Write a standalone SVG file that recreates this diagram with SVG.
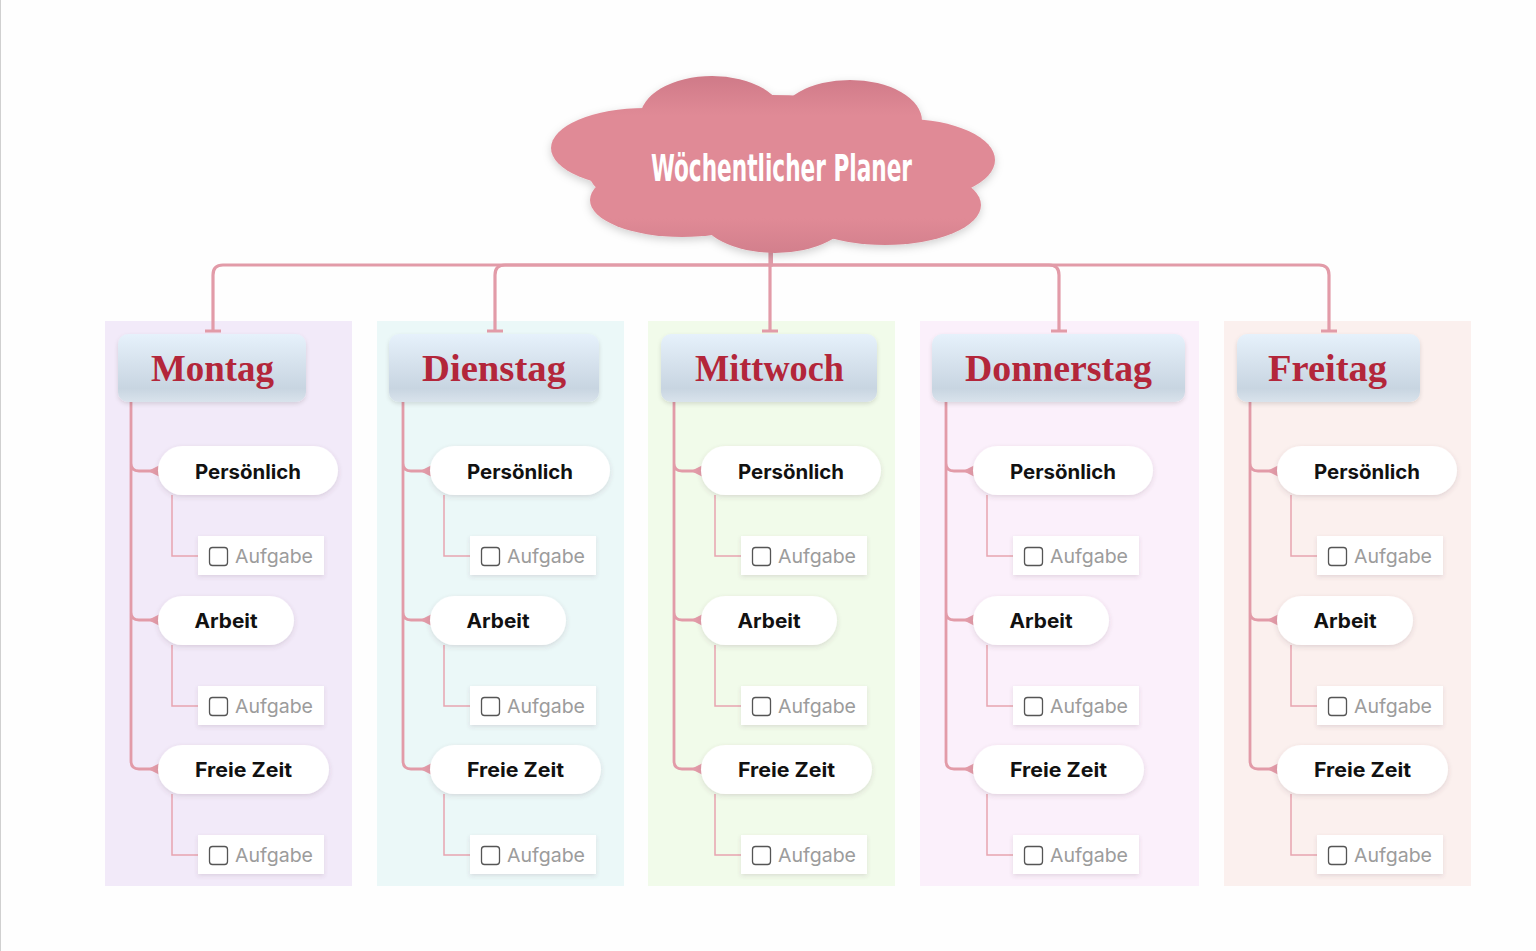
<svg xmlns="http://www.w3.org/2000/svg" width="1536" height="951" viewBox="0 0 1536 951">
<defs>
<style>
.panel{stroke:none}
.hdr{fill:url(#hdrGrad);filter:url(#shHdr)}
.hdrTxt{font-family:"Liberation Serif","DejaVu Serif",serif;font-weight:bold;font-size:37px;fill:#b3263a;text-anchor:middle}
.pill{fill:#ffffff;filter:url(#shPill)}
.pillTxt{font-family:Inter,"Noto Sans","Liberation Sans",sans-serif;font-weight:700;font-size:20px;fill:#111111;text-anchor:middle}
.task{fill:#ffffff;filter:url(#shTask)}
.chk{fill:#ffffff;stroke:#555555;stroke-width:1.3}
.taskTxt{font-family:Inter,"Noto Sans","Liberation Sans",sans-serif;font-size:19px;fill:#9c9c9c}
.main{fill:none;stroke:#e29ba8;stroke-width:3.2}
.br{fill:none;stroke:#e29ba8;stroke-width:2.8}
.sub{fill:none;stroke:#e8a4b0;stroke-width:1.5}
.tip{fill:#e29ba8}
</style>
<linearGradient id="hdrGrad" x1="0" y1="0" x2="0" y2="1">
<stop offset="0" stop-color="#e6f1fb"/>
<stop offset="0.8" stop-color="#c8d5e1"/>
<stop offset="1" stop-color="#d9e3ec"/>
</linearGradient>
<linearGradient id="cloudGrad" gradientUnits="userSpaceOnUse" x1="0" y1="76" x2="0" y2="254">
<stop offset="0" stop-color="#cf7a88"/>
<stop offset="0.22" stop-color="#e08a96"/>
<stop offset="0.8" stop-color="#e08a96"/>
<stop offset="1" stop-color="#d27f8c"/>
</linearGradient>
<filter id="shHdr" x="-10%" y="-20%" width="120%" height="150%"><feDropShadow dx="0" dy="2" stdDeviation="2" flood-color="#000" flood-opacity="0.12"/></filter>
<filter id="shPill" x="-10%" y="-20%" width="120%" height="160%"><feDropShadow dx="0" dy="2" stdDeviation="2.5" flood-color="#5a3a50" flood-opacity="0.16"/></filter>
<filter id="shTask" x="-10%" y="-20%" width="120%" height="160%"><feDropShadow dx="0" dy="2" stdDeviation="2" flood-color="#5a3a50" flood-opacity="0.14"/></filter>
<filter id="shCloud" x="-10%" y="-10%" width="120%" height="130%"><feDropShadow dx="0" dy="3" stdDeviation="4" flood-color="#000" flood-opacity="0.18"/></filter>
</defs>

<rect x="0" y="0" width="1536" height="951" fill="#fefefe"/>
<line x1="0.5" y1="0" x2="0.5" y2="951" stroke="#d0d0d0" stroke-width="1"/>

<!-- column panels -->
<g id="panels">
<rect class="panel" x="105" y="321" width="247" height="565" fill="#f2eaf9"/>
<rect class="panel" x="377" y="321" width="247" height="565" fill="#ebf8f8"/>
<rect class="panel" x="648" y="321" width="247" height="565" fill="#f1fbea"/>
<rect class="panel" x="920" y="321" width="279" height="565" fill="#fbf0fb"/>
<rect class="panel" x="1224" y="321" width="247" height="565" fill="#fbf0ee"/>
</g>

<!-- connectors -->
<g id="connectors">
<path class="main" d="M771,250 V265 H223 Q213,265 213,275 V331"/>
<path class="main" d="M771,250 V265 H505 Q495,265 495,275 V331"/>
<path class="main" d="M770,250 V331"/>
<path class="main" d="M771,250 V265 H1049 Q1059,265 1059,275 V331"/>
<path class="main" d="M771,250 V265 H1319 Q1329,265 1329,275 V331"/>
<path class="main" d="M205,331 H221 M487,331 H503 M762,331 H778 M1051,331 H1067 M1321,331 H1337"/>

<path class="br" d="M131,402 V463 Q131,471 139,471 H152 M131,402 V612 Q131,620 139,620 H152 M131,402 V761 Q131,769 139,769 H152"/>
<path class="br" d="M403,402 V463 Q403,471 411,471 H424 M403,402 V612 Q403,620 411,620 H424 M403,402 V761 Q403,769 411,769 H424"/>
<path class="br" d="M674,402 V463 Q674,471 682,471 H695 M674,402 V612 Q674,620 682,620 H695 M674,402 V761 Q674,769 682,769 H695"/>
<path class="br" d="M946,402 V463 Q946,471 954,471 H967 M946,402 V612 Q946,620 954,620 H967 M946,402 V761 Q946,769 954,769 H967"/>
<path class="br" d="M1250,402 V463 Q1250,471 1258,471 H1271 M1250,402 V612 Q1250,620 1258,620 H1271 M1250,402 V761 Q1250,769 1258,769 H1271"/>

<polygon class="tip" points="148,471 159,465.5 159,476.5"/>
<polygon class="tip" points="148,620 159,614.5 159,625.5"/>
<polygon class="tip" points="148,769 159,763.5 159,774.5"/>
<polygon class="tip" points="420,471 431,465.5 431,476.5"/>
<polygon class="tip" points="420,620 431,614.5 431,625.5"/>
<polygon class="tip" points="420,769 431,763.5 431,774.5"/>
<polygon class="tip" points="691,471 702,465.5 702,476.5"/>
<polygon class="tip" points="691,620 702,614.5 702,625.5"/>
<polygon class="tip" points="691,769 702,763.5 702,774.5"/>
<polygon class="tip" points="963,471 974,465.5 974,476.5"/>
<polygon class="tip" points="963,620 974,614.5 974,625.5"/>
<polygon class="tip" points="963,769 974,763.5 974,774.5"/>
<polygon class="tip" points="1267,471 1278,465.5 1278,476.5"/>
<polygon class="tip" points="1267,620 1278,614.5 1278,625.5"/>
<polygon class="tip" points="1267,769 1278,763.5 1278,774.5"/>

<path class="sub" d="M172,495 V556 H198 M172,645 V706 H198 M172,794 V855 H198"/>
<path class="sub" d="M444,495 V556 H470 M444,645 V706 H470 M444,794 V855 H470"/>
<path class="sub" d="M715,495 V556 H741 M715,645 V706 H741 M715,794 V855 H741"/>
<path class="sub" d="M987,495 V556 H1013 M987,645 V706 H1013 M987,794 V855 H1013"/>
<path class="sub" d="M1291,495 V556 H1317 M1291,645 V706 H1317 M1291,794 V855 H1317"/>
</g>

<!-- central cloud -->
<g id="title">
<g filter="url(#shCloud)" fill="url(#cloudGrad)">
<ellipse cx="771" cy="165" rx="185" ry="70"/>
<ellipse cx="645" cy="148" rx="94" ry="40"/>
<ellipse cx="712" cy="118" rx="72" ry="42"/>
<ellipse cx="850" cy="121" rx="72" ry="41"/>
<ellipse cx="905" cy="160" rx="90" ry="41"/>
<ellipse cx="682" cy="200" rx="92" ry="37"/>
<ellipse cx="885" cy="205" rx="96" ry="40"/>
<ellipse cx="775" cy="214" rx="75" ry="39"/>
</g>
<text x="781.5" y="181" font-family="'DejaVu Sans Condensed','Liberation Sans Narrow','DejaVu Sans',sans-serif" font-stretch="condensed" font-weight="bold" font-size="38" fill="#ffffff" text-anchor="middle" textLength="261" lengthAdjust="spacingAndGlyphs">Wöchentlicher Planer</text>
</g>

<!-- Montag -->
<g id="montag">
<rect class="hdr" x="118" y="334" width="188" height="68" rx="10"/>
<text class="hdrTxt" x="212.5" y="381" textLength="123" lengthAdjust="spacingAndGlyphs">Montag</text>
</g>
<g id="montag-persoenlich"><rect class="pill" x="158" y="446" width="180" height="49" rx="24.5"/><text class="pillTxt" x="248" y="479" textLength="106" lengthAdjust="spacingAndGlyphs">Persönlich</text></g>
<g id="montag-aufgabe1"><rect class="task" x="198" y="536" width="126" height="39"/><rect class="chk" x="209.5" y="547.5" width="18" height="18" rx="3"/><text class="taskTxt" x="235" y="562.5" textLength="78" lengthAdjust="spacingAndGlyphs">Aufgabe</text></g>
<g id="montag-arbeit"><rect class="pill" x="158" y="596" width="136" height="49" rx="24.5"/><text class="pillTxt" x="226" y="628" textLength="63" lengthAdjust="spacingAndGlyphs">Arbeit</text></g>
<g id="montag-aufgabe2"><rect class="task" x="198" y="686" width="126" height="39"/><rect class="chk" x="209.5" y="697.5" width="18" height="18" rx="3"/><text class="taskTxt" x="235" y="712.5" textLength="78" lengthAdjust="spacingAndGlyphs">Aufgabe</text></g>
<g id="montag-freizeit"><rect class="pill" x="158" y="745" width="171" height="49" rx="24.5"/><text class="pillTxt" x="243.5" y="777" textLength="97" lengthAdjust="spacingAndGlyphs">Freie Zeit</text></g>
<g id="montag-aufgabe3"><rect class="task" x="198" y="835" width="126" height="39"/><rect class="chk" x="209.5" y="846.5" width="18" height="18" rx="3"/><text class="taskTxt" x="235" y="861.5" textLength="78" lengthAdjust="spacingAndGlyphs">Aufgabe</text></g>

<!-- Dienstag -->
<g id="dienstag">
<rect class="hdr" x="389" y="334" width="210" height="68" rx="10"/>
<text class="hdrTxt" x="494" y="381" textLength="144" lengthAdjust="spacingAndGlyphs">Dienstag</text>
</g>
<g id="dienstag-persoenlich"><rect class="pill" x="430" y="446" width="180" height="49" rx="24.5"/><text class="pillTxt" x="520" y="479" textLength="106" lengthAdjust="spacingAndGlyphs">Persönlich</text></g>
<g id="dienstag-aufgabe1"><rect class="task" x="470" y="536" width="126" height="39"/><rect class="chk" x="481.5" y="547.5" width="18" height="18" rx="3"/><text class="taskTxt" x="507" y="562.5" textLength="78" lengthAdjust="spacingAndGlyphs">Aufgabe</text></g>
<g id="dienstag-arbeit"><rect class="pill" x="430" y="596" width="136" height="49" rx="24.5"/><text class="pillTxt" x="498" y="628" textLength="63" lengthAdjust="spacingAndGlyphs">Arbeit</text></g>
<g id="dienstag-aufgabe2"><rect class="task" x="470" y="686" width="126" height="39"/><rect class="chk" x="481.5" y="697.5" width="18" height="18" rx="3"/><text class="taskTxt" x="507" y="712.5" textLength="78" lengthAdjust="spacingAndGlyphs">Aufgabe</text></g>
<g id="dienstag-freizeit"><rect class="pill" x="430" y="745" width="171" height="49" rx="24.5"/><text class="pillTxt" x="515.5" y="777" textLength="97" lengthAdjust="spacingAndGlyphs">Freie Zeit</text></g>
<g id="dienstag-aufgabe3"><rect class="task" x="470" y="835" width="126" height="39"/><rect class="chk" x="481.5" y="846.5" width="18" height="18" rx="3"/><text class="taskTxt" x="507" y="861.5" textLength="78" lengthAdjust="spacingAndGlyphs">Aufgabe</text></g>

<!-- Mittwoch -->
<g id="mittwoch">
<rect class="hdr" x="661" y="334" width="216" height="68" rx="10"/>
<text class="hdrTxt" x="769.5" y="381" textLength="149" lengthAdjust="spacingAndGlyphs">Mittwoch</text>
</g>
<g id="mittwoch-persoenlich"><rect class="pill" x="701" y="446" width="180" height="49" rx="24.5"/><text class="pillTxt" x="791" y="479" textLength="106" lengthAdjust="spacingAndGlyphs">Persönlich</text></g>
<g id="mittwoch-aufgabe1"><rect class="task" x="741" y="536" width="126" height="39"/><rect class="chk" x="752.5" y="547.5" width="18" height="18" rx="3"/><text class="taskTxt" x="778" y="562.5" textLength="78" lengthAdjust="spacingAndGlyphs">Aufgabe</text></g>
<g id="mittwoch-arbeit"><rect class="pill" x="701" y="596" width="136" height="49" rx="24.5"/><text class="pillTxt" x="769" y="628" textLength="63" lengthAdjust="spacingAndGlyphs">Arbeit</text></g>
<g id="mittwoch-aufgabe2"><rect class="task" x="741" y="686" width="126" height="39"/><rect class="chk" x="752.5" y="697.5" width="18" height="18" rx="3"/><text class="taskTxt" x="778" y="712.5" textLength="78" lengthAdjust="spacingAndGlyphs">Aufgabe</text></g>
<g id="mittwoch-freizeit"><rect class="pill" x="701" y="745" width="171" height="49" rx="24.5"/><text class="pillTxt" x="786.5" y="777" textLength="97" lengthAdjust="spacingAndGlyphs">Freie Zeit</text></g>
<g id="mittwoch-aufgabe3"><rect class="task" x="741" y="835" width="126" height="39"/><rect class="chk" x="752.5" y="846.5" width="18" height="18" rx="3"/><text class="taskTxt" x="778" y="861.5" textLength="78" lengthAdjust="spacingAndGlyphs">Aufgabe</text></g>

<!-- Donnerstag -->
<g id="donnerstag">
<rect class="hdr" x="932" y="334" width="253" height="68" rx="10"/>
<text class="hdrTxt" x="1058.5" y="381" textLength="187" lengthAdjust="spacingAndGlyphs">Donnerstag</text>
</g>
<g id="donnerstag-persoenlich"><rect class="pill" x="973" y="446" width="180" height="49" rx="24.5"/><text class="pillTxt" x="1063" y="479" textLength="106" lengthAdjust="spacingAndGlyphs">Persönlich</text></g>
<g id="donnerstag-aufgabe1"><rect class="task" x="1013" y="536" width="126" height="39"/><rect class="chk" x="1024.5" y="547.5" width="18" height="18" rx="3"/><text class="taskTxt" x="1050" y="562.5" textLength="78" lengthAdjust="spacingAndGlyphs">Aufgabe</text></g>
<g id="donnerstag-arbeit"><rect class="pill" x="973" y="596" width="136" height="49" rx="24.5"/><text class="pillTxt" x="1041" y="628" textLength="63" lengthAdjust="spacingAndGlyphs">Arbeit</text></g>
<g id="donnerstag-aufgabe2"><rect class="task" x="1013" y="686" width="126" height="39"/><rect class="chk" x="1024.5" y="697.5" width="18" height="18" rx="3"/><text class="taskTxt" x="1050" y="712.5" textLength="78" lengthAdjust="spacingAndGlyphs">Aufgabe</text></g>
<g id="donnerstag-freizeit"><rect class="pill" x="973" y="745" width="171" height="49" rx="24.5"/><text class="pillTxt" x="1058.5" y="777" textLength="97" lengthAdjust="spacingAndGlyphs">Freie Zeit</text></g>
<g id="donnerstag-aufgabe3"><rect class="task" x="1013" y="835" width="126" height="39"/><rect class="chk" x="1024.5" y="846.5" width="18" height="18" rx="3"/><text class="taskTxt" x="1050" y="861.5" textLength="78" lengthAdjust="spacingAndGlyphs">Aufgabe</text></g>

<!-- Freitag -->
<g id="freitag">
<rect class="hdr" x="1237" y="334" width="183" height="68" rx="10"/>
<text class="hdrTxt" x="1327.5" y="381" textLength="119" lengthAdjust="spacingAndGlyphs">Freitag</text>
</g>
<g id="freitag-persoenlich"><rect class="pill" x="1277" y="446" width="180" height="49" rx="24.5"/><text class="pillTxt" x="1367" y="479" textLength="106" lengthAdjust="spacingAndGlyphs">Persönlich</text></g>
<g id="freitag-aufgabe1"><rect class="task" x="1317" y="536" width="126" height="39"/><rect class="chk" x="1328.5" y="547.5" width="18" height="18" rx="3"/><text class="taskTxt" x="1354" y="562.5" textLength="78" lengthAdjust="spacingAndGlyphs">Aufgabe</text></g>
<g id="freitag-arbeit"><rect class="pill" x="1277" y="596" width="136" height="49" rx="24.5"/><text class="pillTxt" x="1345" y="628" textLength="63" lengthAdjust="spacingAndGlyphs">Arbeit</text></g>
<g id="freitag-aufgabe2"><rect class="task" x="1317" y="686" width="126" height="39"/><rect class="chk" x="1328.5" y="697.5" width="18" height="18" rx="3"/><text class="taskTxt" x="1354" y="712.5" textLength="78" lengthAdjust="spacingAndGlyphs">Aufgabe</text></g>
<g id="freitag-freizeit"><rect class="pill" x="1277" y="745" width="171" height="49" rx="24.5"/><text class="pillTxt" x="1362.5" y="777" textLength="97" lengthAdjust="spacingAndGlyphs">Freie Zeit</text></g>
<g id="freitag-aufgabe3"><rect class="task" x="1317" y="835" width="126" height="39"/><rect class="chk" x="1328.5" y="846.5" width="18" height="18" rx="3"/><text class="taskTxt" x="1354" y="861.5" textLength="78" lengthAdjust="spacingAndGlyphs">Aufgabe</text></g>
</svg>
